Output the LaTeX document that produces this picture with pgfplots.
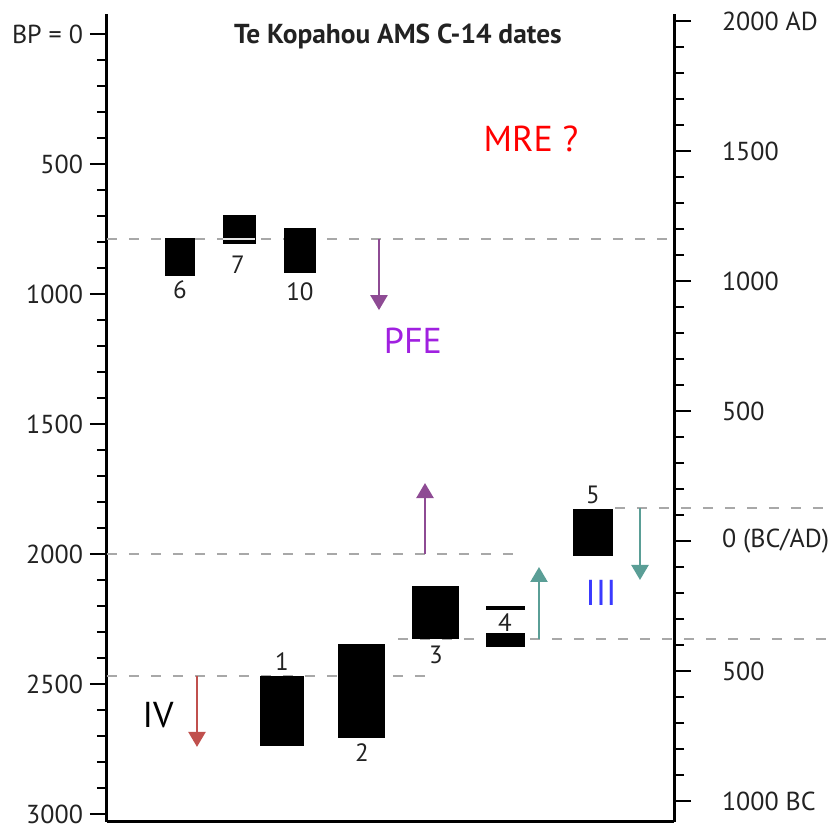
\documentclass[border=0pt]{standalone}
\usepackage{pgfplots}
\pgfplotsset{compat=1.18}
\usepackage{fontspec}
\setmainfont{PT Sans}
\usetikzlibrary{arrows.meta}
\definecolor{dashgray}{HTML}{A8A8A8}
\definecolor{arrpurple}{HTML}{8E4B94}
\definecolor{txtpurple}{HTML}{A020E0}
\definecolor{arrteal}{HTML}{5A9E96}
\definecolor{arrred}{HTML}{C0504D}
\definecolor{txtblue}{HTML}{3A3AFF}
\definecolor{lab}{HTML}{222222}
\begin{document}
\begin{tikzpicture}
\pgfplotsset{
  common/.style={
    scale only axis, width=283.5pt, height=404pt,
    xmin=107, xmax=674, clip=false,
    xtick=\empty,
    tick align=outside,
    major tick length=8.5pt, minor tick length=5pt,
    every tick/.style={black, line width=1pt},
    axis line style={-, line width=1.5pt},
    tick label style={font=\fontsize{13}{15}\selectfont, text=lab, inner ysep=1pt},
    minor y tick num=4,
    /pgf/number format/assume math mode=true,
  }
}
% Right (AD/BC) axis with bottom frame line
\begin{axis}[common,
  ymin=-1080.8, ymax=2026.9,
  axis x line*=bottom, axis y line*=right,
  ytick={-1000,-500,0,500,1000,1500,2000},
  yticklabels={1000 BC,500,0 (BC/AD),500,1000,1500,2000 AD},
  yticklabel style={anchor=west, xshift=12pt},
]
\addplot[draw=none] coordinates {(400,0)};
\end{axis}
% Left (BP) axis with data
\begin{axis}[common,
  ymin=-76.9, ymax=3030.8, y dir=reverse,
  axis x line=none, axis y line*=left,
  ytick={0,500,1000,1500,2000,2500,3000},
  yticklabels={BP = 0,500,1000,1500,2000,2500,3000},
]
\coordinate (bl) at (axis cs:0,3046.2);
\coordinate (tr) at (axis cs:832,-130.8);
% dashed reference lines
\addplot[dashgray, line width=1pt, dash pattern=on 5pt off 6pt] coordinates {(107,790) (676,790)};
\addplot[dashgray, line width=1pt, dash pattern=on 5pt off 6pt] coordinates {(107,2000) (518,2000)};
\addplot[dashgray, line width=1pt, dash pattern=on 5pt off 6pt] coordinates {(107,2470) (430,2470)};
\addplot[dashgray, line width=1pt, dash pattern=on 5pt off 6pt] coordinates {(398,2327) (832,2327)};
\addplot[dashgray, line width=1pt, dash pattern=on 5pt off 6pt] coordinates {(615,1825) (832,1825)};
% date boxes
\addplot[fill=black, draw=black] coordinates {(165,788) (194,788) (194,927) (165,927)} -- cycle; % 6
\addplot[fill=black, draw=black] coordinates {(223,696) (255,696) (255,804) (223,804)} -- cycle; % 7
\addplot[white!90!black, line width=0.7pt] coordinates {(223,788) (255,788)};
\addplot[fill=black, draw=black] coordinates {(284,746) (315,746) (315,915) (284,915)} -- cycle; % 10
\addplot[fill=black, draw=black] coordinates {(260,2469) (303,2469) (303,2738) (260,2738)} -- cycle; % 1
\addplot[fill=black, draw=black] coordinates {(338,2346) (384,2346) (384,2704) (338,2704)} -- cycle; % 2
\addplot[fill=black, draw=black] coordinates {(412,2123) (458,2123) (458,2323) (412,2323)} -- cycle; % 3
\addplot[fill=black, draw=black] coordinates {(486,2202) (524,2202) (524,2214) (486,2214)} -- cycle; % 4 top
\addplot[fill=black, draw=black] coordinates {(486,2304) (524,2304) (524,2354) (486,2354)} -- cycle; % 4
\addplot[fill=black, draw=black] coordinates {(573,1827) (612,1827) (612,2004) (573,2004)} -- cycle; % 5
% arrows
\addplot[arrpurple, line width=1.2pt, -{Triangle[width=8.5pt,length=7.5pt]}] coordinates {(379,790) (379,1062)};
\addplot[arrpurple, line width=1.2pt, -{Triangle[width=8.5pt,length=7.5pt]}] coordinates {(425,2000) (425,1727)};
\addplot[arrteal, line width=1.2pt, -{Triangle[width=8.5pt,length=7.5pt]}] coordinates {(539,2327) (539,2050)};
\addplot[arrteal, line width=1.2pt, -{Triangle[width=8.5pt,length=7.5pt]}] coordinates {(640,1825) (640,2100)};
\addplot[arrred, line width=1.2pt, -{Triangle[width=8.5pt,length=7.5pt]}] coordinates {(197,2469) (197,2742)};
% labels
\node[font=\bfseries\fontsize{13.7}{15}\selectfont, text=lab] at (axis cs:398,11) {Te Kopahou AMS C-14 dates};
\node[font=\fontsize{18}{20}\selectfont, text=red] at (axis cs:531,404) {MRE ?};
\node[font=\fontsize{18}{20}\selectfont, text=txtpurple] at (axis cs:413,1181) {PFE};
\node[font=\fontsize{18}{20}\selectfont, text=black] at (axis cs:158,2619) {IV};
\node[font=\fontsize{18}{20}\selectfont, text=txtblue] at (axis cs:601,2150) {III};
\begin{scope}[every node/.style={font=\fontsize{12.5}{14}\selectfont, text=lab}]
\node at (axis cs:180,985) {6};
\node at (axis cs:238,888) {7};
\node at (axis cs:300,992) {10};
\node at (axis cs:282,2415) {1};
\node at (axis cs:362,2762) {2};
\node at (axis cs:436,2388) {3};
\node at (axis cs:505,2265) {4};
\node at (axis cs:593,1773) {5};
\end{scope}
\end{axis}
\pgfresetboundingbox
\path (bl) rectangle (tr);
\end{tikzpicture}
\end{document}
